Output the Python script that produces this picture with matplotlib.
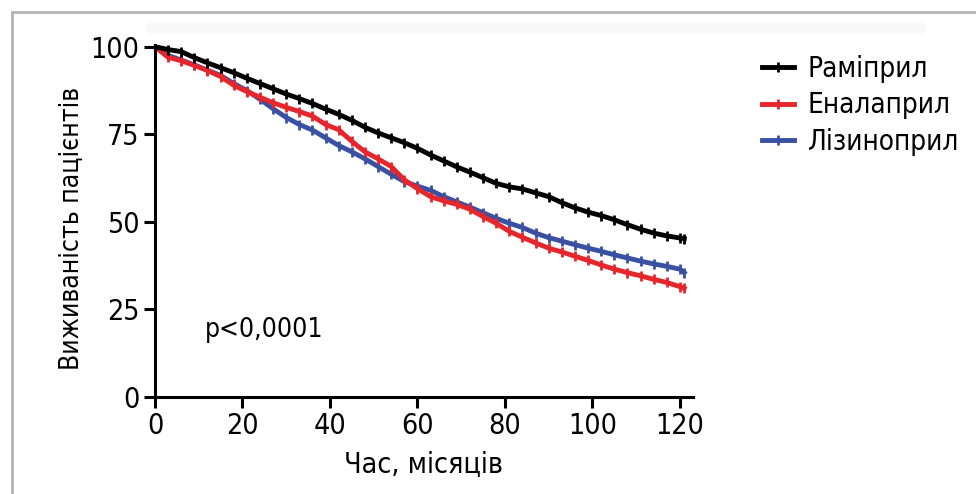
import matplotlib
matplotlib.use("Agg")
import matplotlib.pyplot as plt
from matplotlib.patches import Rectangle

plt.rcParams["font.family"] = ["DejaVu Sans"]
plt.rcParams["font.stretch"] = "condensed"

# time grid (months) and survival (%)
months = [0, 3, 6, 9, 12, 15, 18, 21, 24, 27, 30, 33, 36, 39, 42, 45, 48, 51, 54, 57,
          60, 63, 66, 69, 72, 75, 78, 81, 84, 87, 90, 93, 96, 99, 102, 105, 108, 111,
          114, 117, 120, 121]

ramipril = [100, 99.2, 98.6, 96.9, 95.4, 94.0, 92.6, 91.0, 89.5, 88.0, 86.5, 85.2, 83.8,
            82.2, 80.7, 79.0, 77.0, 75.4, 74.0, 72.6, 71.0, 69.1, 67.4, 65.7, 64.2, 62.6,
            61.0, 60.0, 59.4, 58.3, 57.2, 55.5, 54.0, 52.8, 51.8, 50.6, 49.2, 47.9, 46.8,
            46.0, 45.4, 45.2]
enalapril = [100, 97.0, 96.0, 94.7, 93.2, 91.5, 89.0, 87.2, 85.6, 84.0, 82.7, 81.5, 80.2,
             77.8, 76.3, 73.0, 70.0, 68.0, 65.8, 62.0, 59.5, 57.2, 56.0, 55.0, 53.6, 51.5,
             49.6, 47.3, 45.6, 44.0, 42.5, 41.4, 40.2, 39.0, 37.7, 36.5, 35.5, 34.6, 33.6,
             32.7, 31.5, 31.0]
lisinopril = [100, 97.5, 96.2, 94.8, 93.3, 91.8, 89.5, 87.5, 85.0, 82.3, 79.8, 77.8, 76.2,
              74.0, 71.8, 70.0, 68.0, 65.8, 63.6, 61.5, 60.2, 59.0, 57.2, 55.7, 54.2, 52.6,
              51.0, 49.6, 48.4, 46.8, 45.5, 44.5, 43.5, 42.5, 41.6, 40.6, 39.7, 38.8, 38.0,
              37.3, 36.5, 35.5]

labels = ["Раміприл", "Еналаприл", "Лізиноприл"]
colors = ["#000000", "#e5262c", "#3a50a2"]

fig = plt.figure(figsize=(9.76, 4.94), dpi=100)

# grey frame and faint band at the top
fig.patches.append(Rectangle((12 / 976, -0.1), 1.2, 1 - 12 / 494 + 0.1,
                             transform=fig.transFigure, fill=False,
                             edgecolor="#b4b4b4", lw=2))
fig.patches.append(Rectangle((147 / 976, 1 - 33 / 494), (925 - 147) / 976, 10 / 494,
                             transform=fig.transFigure, color="#f8f8f8", lw=0))

ax = fig.add_axes([155 / 976, 97 / 494, 538 / 976, 352 / 494])

series = [lisinopril, enalapril, ramipril]
order = [2, 1, 0]
handles = {}
for s, i in zip(series, order):
    ln, = ax.plot(months, s, color=colors[i], lw=3.5, solid_joinstyle="miter",
                  marker="|", ms=7, mew=2, label=labels[i])
    handles[i] = ln

ax.set_xlim(0, 123)
ax.set_ylim(0, 100.5)
ax.set_xticks([0, 20, 40, 60, 80, 100, 120])
ax.set_yticks([0, 25, 50, 75, 100])
for side in ["top", "right"]:
    ax.spines[side].set_visible(False)
for side in ["left", "bottom"]:
    ax.spines[side].set_linewidth(2.2)
ax.tick_params(axis="both", direction="out", length=8, width=2.2, labelsize=20.5, pad=3)

ax.set_xlabel("Час, місяців", fontsize=20.5)
ax.set_ylabel("Виживаність пацієнтів", fontsize=19)
ax.xaxis.set_label_coords(0.5, -0.15)
ax.yaxis.set_label_coords(-0.13, 0.48)
ax.text(11.4, 19, "p<0,0001", fontsize=19, va="center")

fig.legend([handles[0], handles[1], handles[2]], labels, loc="upper left",
           bbox_to_anchor=(748 / 976, 1 - 41 / 494), frameon=False, fontsize=20,
           handlelength=1.15, handletextpad=0.5, labelspacing=0.3, borderpad=0)

fig.savefig("out.png", dpi=100)
